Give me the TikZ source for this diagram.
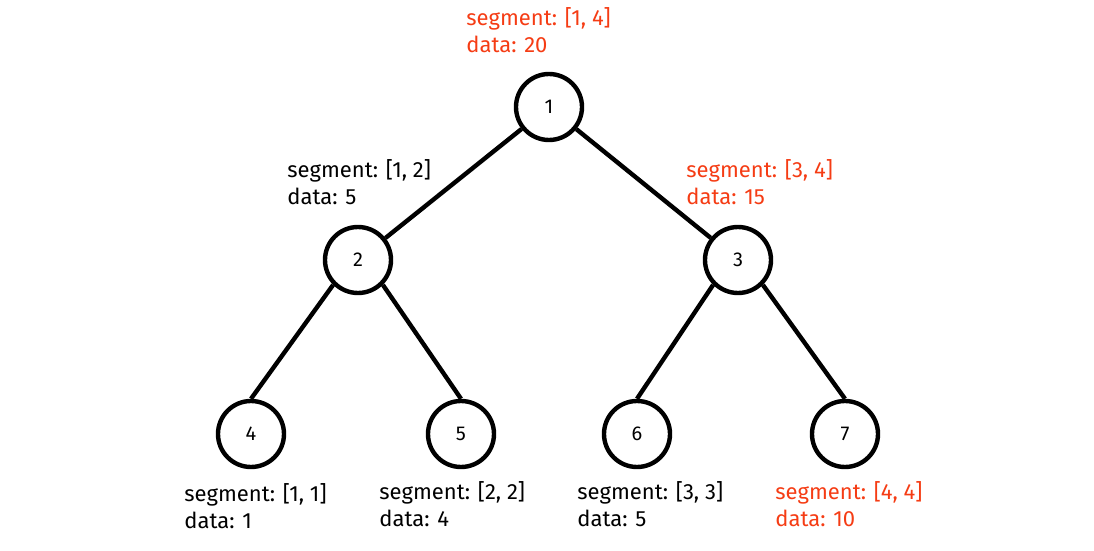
\documentclass[tikz,border=0pt]{standalone}
\usepackage{fontspec}
\setmainfont{Fira Sans}
\definecolor{segred}{RGB}{245,60,20}
\tikzset{
  treenode/.style={circle, draw, line width=2.2pt, minimum size=33pt, inner sep=0pt, font=\fontsize{10}{12}\selectfont},
  seglabel/.style={anchor=north west, align=left, inner sep=0pt, font=\fontsize{11}{13.5}\selectfont},
  treeedge/.style={line width=2.2pt}
}
\begin{document}
\begin{tikzpicture}[x=0.5pt,y=-0.5pt]
	\useasboundingbox (0,0) rectangle (1094,551);
	% nodes
	\node[treenode] (n1) at (549,107) {1};
	\node[treenode] (n2) at (358,260) {2};
	\node[treenode] (n3) at (738,260) {3};
	\node[treenode] (n4) at (251,434) {4};
	\node[treenode] (n5) at (461,434) {5};
	\node[treenode] (n6) at (637,434) {6};
	\node[treenode] (n7) at (845,434) {7};
	% edges
	\draw[treeedge] (n1) -- (n2);
	\draw[treeedge] (n1) -- (n3);
	\draw[treeedge] (n2.-135) -- (n4.north);
	\draw[treeedge] (n2.-45) -- (n5.north);
	\draw[treeedge] (n3.-135) -- (n6.north);
	\draw[treeedge] (n3.-45) -- (n7.north);
	% labels
	\node[seglabel, text=segred] (l1) at (466,7) {segment: [1, 4]\\data: 20};
	\node[seglabel] (l2) at (287,159) {segment: [1, 2]\\data: 5};
	\node[seglabel, text=segred] (l3) at (686,159) {segment: [3, 4]\\data: 15};
	\node[seglabel] (l4) at (184,483) {segment: [1, 1]\\data: 1};
	\node[seglabel] (l5) at (379,481) {segment: [2, 2]\\data: 4};
	\node[seglabel] (l6) at (577,481) {segment: [3, 3]\\data: 5};
	\node[seglabel, text=segred] (l7) at (775,481) {segment: [4, 4]\\data: 10};
\end{tikzpicture}
\end{document}
